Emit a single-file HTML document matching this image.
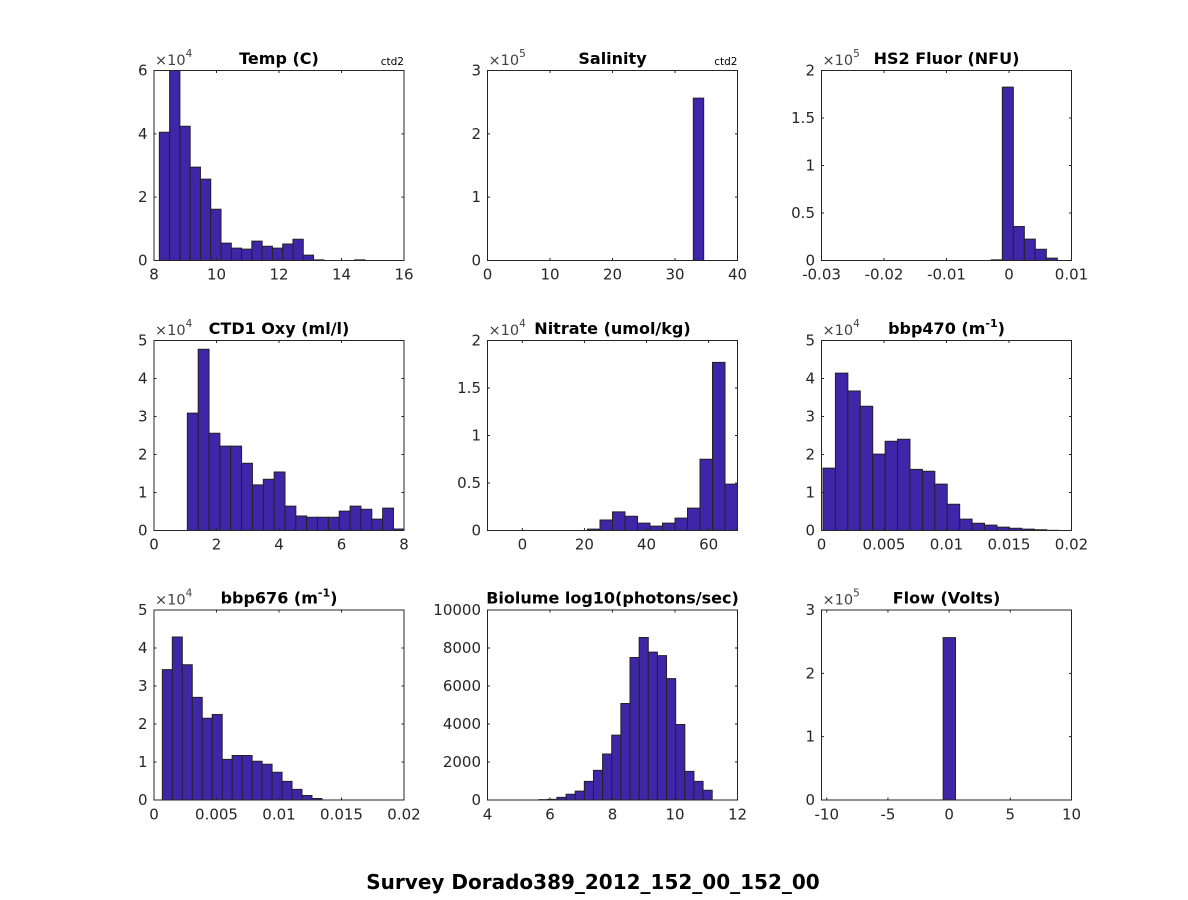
<!DOCTYPE html>
<html><head><meta charset="utf-8"><style>
html,body{margin:0;padding:0;background:#fff}
svg{display:block}
.b rect{vector-effect:non-scaling-stroke}
text{font-family:"DejaVu Sans","Liberation Sans",sans-serif}
.tk{font-size:15px;fill:#262626}
.tt{font-size:16px;font-weight:bold;fill:#000}
.ex{font-size:14.5px;fill:#404040}
.ctd{font-size:10.5px;fill:#000}
</style></head><body>
<svg width="1188" height="900" viewBox="0 0 1188 900" xmlns="http://www.w3.org/2000/svg">
<rect width="1188" height="900" fill="#fff"/>

<!-- Panel A: Temp -->
<rect x="154" y="70.5" width="250" height="190" fill="#fff"/>
<g class="b" transform="translate(-96,260.5) scale(31.25,-31.667)" fill="#3e26a8" stroke="#222" stroke-width="1">
<rect x="8.1706" y="0" width="0.329" height="4.05"/>
<rect x="8.4996" y="0" width="0.329" height="6.0"/>
<rect x="8.8286" y="0" width="0.329" height="4.24"/>
<rect x="9.1576" y="0" width="0.329" height="2.95"/>
<rect x="9.4866" y="0" width="0.329" height="2.57"/>
<rect x="9.8156" y="0" width="0.329" height="1.62"/>
<rect x="10.1446" y="0" width="0.329" height="0.55"/>
<rect x="10.4736" y="0" width="0.329" height="0.39"/>
<rect x="10.8026" y="0" width="0.329" height="0.36"/>
<rect x="11.1316" y="0" width="0.329" height="0.61"/>
<rect x="11.4606" y="0" width="0.329" height="0.45"/>
<rect x="11.7896" y="0" width="0.329" height="0.39"/>
<rect x="12.1186" y="0" width="0.329" height="0.52"/>
<rect x="12.4476" y="0" width="0.329" height="0.67"/>
<rect x="12.7766" y="0" width="0.329" height="0.17"/>
<rect x="13.1056" y="0" width="0.329" height="0.02"/>
<rect x="14.4216" y="0" width="0.329" height="0.02"/>
</g>
<rect x="154" y="70.5" width="250" height="190" fill="none" stroke="#262626" stroke-width="1"/>
<path d="M216.5 260.5v-2.5M279 260.5v-2.5M341.5 260.5v-2.5M216.5 70.5v2.5M279 70.5v2.5M341.5 70.5v2.5M154 197.17h2.5M154 133.83h2.5M404 197.17h-2.5M404 133.83h-2.5" stroke="#262626" stroke-width="1" fill="none"/>
<g class="tk" text-anchor="middle"><text x="154" y="279.5">8</text><text x="216.5" y="279.5">10</text><text x="279" y="279.5">12</text><text x="341.5" y="279.5">14</text><text x="404" y="279.5">16</text></g>
<g class="tk" text-anchor="end"><text x="147.5" y="265.5">0</text><text x="147.5" y="202.2">2</text><text x="147.5" y="138.8">4</text><text x="147.5" y="75.5">6</text></g>
<text class="tt" x="279" y="64.2" text-anchor="middle">Temp (C)</text>
<text class="ex" x="155" y="65">×10<tspan dy="-8" font-size="10.5">4</tspan></text>
<text class="ctd" x="404" y="65" text-anchor="end">ctd2</text>

<!-- Panel B: Salinity -->
<g class="b" transform="translate(487.5,260.5) scale(6.25,-63.333)" fill="#3e26a8" stroke="#222" stroke-width="1">
<rect x="32.93" y="0" width="1.66" height="2.563"/>
</g>
<rect x="487.5" y="70.5" width="250" height="190" fill="none" stroke="#262626" stroke-width="1"/>
<path d="M550 260.5v-2.5M612.5 260.5v-2.5M675 260.5v-2.5M550 70.5v2.5M612.5 70.5v2.5M675 70.5v2.5M487.5 197.17h2.5M487.5 133.83h2.5M737.5 197.17h-2.5M737.5 133.83h-2.5" stroke="#262626" stroke-width="1" fill="none"/>
<g class="tk" text-anchor="middle"><text x="487.5" y="279.5">0</text><text x="550" y="279.5">10</text><text x="612.5" y="279.5">20</text><text x="675" y="279.5">30</text><text x="737.5" y="279.5">40</text></g>
<g class="tk" text-anchor="end"><text x="481" y="265.5">0</text><text x="481" y="202.2">1</text><text x="481" y="138.8">2</text><text x="481" y="75.5">3</text></g>
<text class="tt" x="612.5" y="64.2" text-anchor="middle">Salinity</text>
<text class="ex" x="488.5" y="65">×10<tspan dy="-8" font-size="10.5">5</tspan></text>
<text class="ctd" x="737.5" y="65" text-anchor="end">ctd2</text>

<!-- Panel C: HS2 Fluor -->
<g class="b" transform="translate(1009,260.5) scale(6250,-95)" fill="#3e26a8" stroke="#222" stroke-width="1">
<rect x="-0.002827" y="0" width="0.00176" height="0.007"/>
<rect x="-0.001067" y="0" width="0.00176" height="1.825"/>
<rect x="0.000693" y="0" width="0.00176" height="0.358"/>
<rect x="0.002453" y="0" width="0.00176" height="0.225"/>
<rect x="0.004213" y="0" width="0.00176" height="0.119"/>
<rect x="0.005973" y="0" width="0.00176" height="0.025"/>
</g>
<rect x="821.5" y="70.5" width="250" height="190" fill="none" stroke="#262626" stroke-width="1"/>
<path d="M884 260.5v-2.5M946.5 260.5v-2.5M1009 260.5v-2.5M884 70.5v2.5M946.5 70.5v2.5M1009 70.5v2.5M821.5 213h2.5M821.5 165.5h2.5M821.5 118h2.5M1071.5 213h-2.5M1071.5 165.5h-2.5M1071.5 118h-2.5" stroke="#262626" stroke-width="1" fill="none"/>
<g class="tk" text-anchor="middle"><text x="821.5" y="279.5">-0.03</text><text x="884" y="279.5">-0.02</text><text x="946.5" y="279.5">-0.01</text><text x="1009" y="279.5">0</text><text x="1071.5" y="279.5">0.01</text></g>
<g class="tk" text-anchor="end"><text x="815" y="265.5">0</text><text x="815" y="218">0.5</text><text x="815" y="170.5">1</text><text x="815" y="123">1.5</text><text x="815" y="75.5">2</text></g>
<text class="tt" x="946.5" y="64.2" text-anchor="middle">HS2 Fluor (NFU)</text>
<text class="ex" x="822.5" y="65">×10<tspan dy="-8" font-size="10.5">5</tspan></text>

<!-- Panel D: CTD1 Oxy -->
<g class="b" transform="translate(154,530.5) scale(31.25,-38)" fill="#3e26a8" stroke="#222" stroke-width="1">
<rect x="1.067" y="0" width="0.3472" height="3.09"/>
<rect x="1.4142" y="0" width="0.3472" height="4.77"/>
<rect x="1.7614" y="0" width="0.3472" height="2.56"/>
<rect x="2.1086" y="0" width="0.3472" height="2.22"/>
<rect x="2.4558" y="0" width="0.3472" height="2.22"/>
<rect x="2.803" y="0" width="0.3472" height="1.77"/>
<rect x="3.1502" y="0" width="0.3472" height="1.20"/>
<rect x="3.4974" y="0" width="0.3472" height="1.35"/>
<rect x="3.8446" y="0" width="0.3472" height="1.54"/>
<rect x="4.1918" y="0" width="0.3472" height="0.64"/>
<rect x="4.539" y="0" width="0.3472" height="0.38"/>
<rect x="4.8862" y="0" width="0.3472" height="0.35"/>
<rect x="5.2334" y="0" width="0.3472" height="0.35"/>
<rect x="5.5806" y="0" width="0.3472" height="0.35"/>
<rect x="5.9278" y="0" width="0.3472" height="0.51"/>
<rect x="6.275" y="0" width="0.3472" height="0.64"/>
<rect x="6.6222" y="0" width="0.3472" height="0.56"/>
<rect x="6.9694" y="0" width="0.3472" height="0.30"/>
<rect x="7.3166" y="0" width="0.3472" height="0.59"/>
<rect x="7.6638" y="0" width="0.3362" height="0.04"/>
</g>
<rect x="154" y="340.5" width="250" height="190" fill="none" stroke="#262626" stroke-width="1"/>
<path d="M216.5 530.5v-2.5M279 530.5v-2.5M341.5 530.5v-2.5M216.5 340.5v2.5M279 340.5v2.5M341.5 340.5v2.5M154 492.5h2.5M154 454.5h2.5M154 416.5h2.5M154 378.5h2.5M404 492.5h-2.5M404 454.5h-2.5M404 416.5h-2.5M404 378.5h-2.5" stroke="#262626" stroke-width="1" fill="none"/>
<g class="tk" text-anchor="middle"><text x="154" y="549.5">0</text><text x="216.5" y="549.5">2</text><text x="279" y="549.5">4</text><text x="341.5" y="549.5">6</text><text x="404" y="549.5">8</text></g>
<g class="tk" text-anchor="end"><text x="147.5" y="535.5">0</text><text x="147.5" y="497.5">1</text><text x="147.5" y="459.5">2</text><text x="147.5" y="421.5">3</text><text x="147.5" y="383.5">4</text><text x="147.5" y="345.5">5</text></g>
<text class="tt" x="279" y="334.2" text-anchor="middle">CTD1 Oxy (ml/l)</text>
<text class="ex" x="155" y="335">×10<tspan dy="-8" font-size="10.5">4</tspan></text>

<!-- Panel E: Nitrate -->
<g class="b" transform="translate(522.36,530.5) scale(3.1045,-95)" fill="#3e26a8" stroke="#222" stroke-width="1">
<rect x="20.98" y="0" width="4.0265" height="0.014"/>
<rect x="25.0065" y="0" width="4.0265" height="0.11"/>
<rect x="29.033" y="0" width="4.0265" height="0.196"/>
<rect x="33.0595" y="0" width="4.0265" height="0.15"/>
<rect x="37.086" y="0" width="4.0265" height="0.077"/>
<rect x="41.1125" y="0" width="4.0265" height="0.046"/>
<rect x="45.139" y="0" width="4.0265" height="0.077"/>
<rect x="49.1655" y="0" width="4.0265" height="0.13"/>
<rect x="53.192" y="0" width="4.0265" height="0.235"/>
<rect x="57.2185" y="0" width="4.0265" height="0.75"/>
<rect x="61.245" y="0" width="4.0265" height="1.77"/>
<rect x="65.2715" y="0" width="4.0265" height="0.488"/>
</g>
<rect x="487.5" y="340.5" width="250" height="190" fill="none" stroke="#262626" stroke-width="1"/>
<path d="M522.36 530.5v-2.5M584.45 530.5v-2.5M646.54 530.5v-2.5M708.63 530.5v-2.5M522.36 340.5v2.5M584.45 340.5v2.5M646.54 340.5v2.5M708.63 340.5v2.5M487.5 483h2.5M487.5 435.5h2.5M487.5 388h2.5M737.5 483h-2.5M737.5 435.5h-2.5M737.5 388h-2.5" stroke="#262626" stroke-width="1" fill="none"/>
<g class="tk" text-anchor="middle"><text x="522.36" y="549.5">0</text><text x="584.45" y="549.5">20</text><text x="646.54" y="549.5">40</text><text x="708.63" y="549.5">60</text></g>
<g class="tk" text-anchor="end"><text x="481" y="535.5">0</text><text x="481" y="488">0.5</text><text x="481" y="440.5">1</text><text x="481" y="393">1.5</text><text x="481" y="345.5">2</text></g>
<text class="tt" x="612.5" y="334.2" text-anchor="middle">Nitrate (umol/kg)</text>
<text class="ex" x="488.5" y="335">×10<tspan dy="-8" font-size="10.5">4</tspan></text>

<!-- Panel F: bbp470 -->
<g class="b" transform="translate(821.5,530.5) scale(12500,-38)" fill="#3e26a8" stroke="#222" stroke-width="1">
<rect x="0.00012" y="0" width="0.000994" height="1.64"/>
<rect x="0.001114" y="0" width="0.000994" height="4.14"/>
<rect x="0.002108" y="0" width="0.000994" height="3.67"/>
<rect x="0.003102" y="0" width="0.000994" height="3.27"/>
<rect x="0.004096" y="0" width="0.000994" height="2.01"/>
<rect x="0.00509" y="0" width="0.000994" height="2.35"/>
<rect x="0.006084" y="0" width="0.000994" height="2.40"/>
<rect x="0.007078" y="0" width="0.000994" height="1.61"/>
<rect x="0.008072" y="0" width="0.000994" height="1.56"/>
<rect x="0.009066" y="0" width="0.000994" height="1.22"/>
<rect x="0.01006" y="0" width="0.000994" height="0.69"/>
<rect x="0.011054" y="0" width="0.000994" height="0.30"/>
<rect x="0.012048" y="0" width="0.000994" height="0.19"/>
<rect x="0.013042" y="0" width="0.000994" height="0.14"/>
<rect x="0.014036" y="0" width="0.000994" height="0.09"/>
<rect x="0.01503" y="0" width="0.000994" height="0.06"/>
<rect x="0.016024" y="0" width="0.000994" height="0.035"/>
<rect x="0.017018" y="0" width="0.000994" height="0.02"/>
<rect x="0.018012" y="0" width="0.000994" height="0.005"/>
</g>
<rect x="821.5" y="340.5" width="250" height="190" fill="none" stroke="#262626" stroke-width="1"/>
<path d="M884 530.5v-2.5M946.5 530.5v-2.5M1009 530.5v-2.5M884 340.5v2.5M946.5 340.5v2.5M1009 340.5v2.5M821.5 492.5h2.5M821.5 454.5h2.5M821.5 416.5h2.5M821.5 378.5h2.5M1071.5 492.5h-2.5M1071.5 454.5h-2.5M1071.5 416.5h-2.5M1071.5 378.5h-2.5" stroke="#262626" stroke-width="1" fill="none"/>
<g class="tk" text-anchor="middle"><text x="821.5" y="549.5">0</text><text x="884" y="549.5">0.005</text><text x="946.5" y="549.5">0.01</text><text x="1009" y="549.5">0.015</text><text x="1071.5" y="549.5">0.02</text></g>
<g class="tk" text-anchor="end"><text x="815" y="535.5">0</text><text x="815" y="497.5">1</text><text x="815" y="459.5">2</text><text x="815" y="421.5">3</text><text x="815" y="383.5">4</text><text x="815" y="345.5">5</text></g>
<text class="tt" x="946.5" y="334.2" text-anchor="middle">bbp470 (m<tspan dy="-7" font-size="11">-1</tspan><tspan dy="7">)</tspan></text>
<text class="ex" x="822.5" y="335">×10<tspan dy="-8" font-size="10.5">4</tspan></text>

<!-- Panel G: bbp676 -->
<g class="b" transform="translate(154,800) scale(12500,-38)" fill="#3e26a8" stroke="#222" stroke-width="1">
<rect x="0.000667" y="0" width="0.000798" height="3.43"/>
<rect x="0.001465" y="0" width="0.000798" height="4.29"/>
<rect x="0.002263" y="0" width="0.000798" height="3.56"/>
<rect x="0.003061" y="0" width="0.000798" height="2.70"/>
<rect x="0.003859" y="0" width="0.000798" height="2.15"/>
<rect x="0.004657" y="0" width="0.000798" height="2.25"/>
<rect x="0.005455" y="0" width="0.000798" height="1.07"/>
<rect x="0.006253" y="0" width="0.000798" height="1.17"/>
<rect x="0.007051" y="0" width="0.000798" height="1.17"/>
<rect x="0.007849" y="0" width="0.000798" height="1.02"/>
<rect x="0.008647" y="0" width="0.000798" height="0.94"/>
<rect x="0.009445" y="0" width="0.000798" height="0.73"/>
<rect x="0.010243" y="0" width="0.000798" height="0.49"/>
<rect x="0.011041" y="0" width="0.000798" height="0.28"/>
<rect x="0.011839" y="0" width="0.000798" height="0.12"/>
<rect x="0.012637" y="0" width="0.000798" height="0.04"/>
</g>
<rect x="154" y="610" width="250" height="190" fill="none" stroke="#262626" stroke-width="1"/>
<path d="M216.5 800v-2.5M279 800v-2.5M341.5 800v-2.5M216.5 610v2.5M279 610v2.5M341.5 610v2.5M154 762h2.5M154 724h2.5M154 686h2.5M154 648h2.5M404 762h-2.5M404 724h-2.5M404 686h-2.5M404 648h-2.5" stroke="#262626" stroke-width="1" fill="none"/>
<g class="tk" text-anchor="middle"><text x="154" y="819.5">0</text><text x="216.5" y="819.5">0.005</text><text x="279" y="819.5">0.01</text><text x="341.5" y="819.5">0.015</text><text x="404" y="819.5">0.02</text></g>
<g class="tk" text-anchor="end"><text x="147.5" y="805">0</text><text x="147.5" y="767">1</text><text x="147.5" y="729">2</text><text x="147.5" y="691">3</text><text x="147.5" y="653">4</text><text x="147.5" y="615">5</text></g>
<text class="tt" x="279" y="603.7" text-anchor="middle">bbp676 (m<tspan dy="-7" font-size="11">-1</tspan><tspan dy="7">)</tspan></text>
<text class="ex" x="155" y="604.5">×10<tspan dy="-8" font-size="10.5">4</tspan></text>

<!-- Panel H: Biolume -->
<g class="b" transform="translate(362.5,800) scale(31.25,-0.019)" fill="#3e26a8" stroke="#222" stroke-width="1">
<rect x="5.637" y="0" width="0.2923" height="20"/>
<rect x="5.9293" y="0" width="0.2923" height="35"/>
<rect x="6.2216" y="0" width="0.2923" height="140"/>
<rect x="6.5139" y="0" width="0.2923" height="300"/>
<rect x="6.8062" y="0" width="0.2923" height="470"/>
<rect x="7.0985" y="0" width="0.2923" height="980"/>
<rect x="7.3908" y="0" width="0.2923" height="1560"/>
<rect x="7.6831" y="0" width="0.2923" height="2420"/>
<rect x="7.9754" y="0" width="0.2923" height="3415"/>
<rect x="8.2677" y="0" width="0.2923" height="5080"/>
<rect x="8.56" y="0" width="0.2923" height="7500"/>
<rect x="8.8523" y="0" width="0.2923" height="8550"/>
<rect x="9.1446" y="0" width="0.2923" height="7780"/>
<rect x="9.4369" y="0" width="0.2923" height="7600"/>
<rect x="9.7292" y="0" width="0.2923" height="6390"/>
<rect x="10.0215" y="0" width="0.2923" height="3975"/>
<rect x="10.3138" y="0" width="0.2923" height="1505"/>
<rect x="10.6061" y="0" width="0.2923" height="980"/>
<rect x="10.8984" y="0" width="0.2923" height="510"/>
</g>
<rect x="487.5" y="610" width="250" height="190" fill="none" stroke="#262626" stroke-width="1"/>
<path d="M550 800v-2.5M612.5 800v-2.5M675 800v-2.5M550 610v2.5M612.5 610v2.5M675 610v2.5M487.5 762h2.5M487.5 724h2.5M487.5 686h2.5M487.5 648h2.5M737.5 762h-2.5M737.5 724h-2.5M737.5 686h-2.5M737.5 648h-2.5" stroke="#262626" stroke-width="1" fill="none"/>
<g class="tk" text-anchor="middle"><text x="487.5" y="819.5">4</text><text x="550" y="819.5">6</text><text x="612.5" y="819.5">8</text><text x="675" y="819.5">10</text><text x="737.5" y="819.5">12</text></g>
<g class="tk" text-anchor="end"><text x="481" y="805">0</text><text x="481" y="767">2000</text><text x="481" y="729">4000</text><text x="481" y="691">6000</text><text x="481" y="653">8000</text><text x="481" y="615">10000</text></g>
<text class="tt" x="612.5" y="603.7" text-anchor="middle">Biolume log10(photons/sec)</text>

<!-- Panel I: Flow -->
<g class="b" transform="translate(949.13,800) scale(12.237,-63.333)" fill="#3e26a8" stroke="#222" stroke-width="1">
<rect x="-0.49" y="0" width="1.01" height="2.564"/>
</g>
<rect x="821.5" y="610" width="250" height="190" fill="none" stroke="#262626" stroke-width="1"/>
<path d="M826.76 800v-2.5M887.95 800v-2.5M949.13 800v-2.5M1010.3 800v-2.5M826.76 610v2.5M887.95 610v2.5M949.13 610v2.5M1010.3 610v2.5M821.5 736.67h2.5M821.5 673.33h2.5M1071.5 736.67h-2.5M1071.5 673.33h-2.5" stroke="#262626" stroke-width="1" fill="none"/>
<g class="tk" text-anchor="middle"><text x="826.76" y="819.5">-10</text><text x="887.95" y="819.5">-5</text><text x="949.13" y="819.5">0</text><text x="1010.3" y="819.5">5</text><text x="1071.5" y="819.5">10</text></g>
<g class="tk" text-anchor="end"><text x="815" y="805">0</text><text x="815" y="741.7">1</text><text x="815" y="678.3">2</text><text x="815" y="615">3</text></g>
<text class="tt" x="946.5" y="603.7" text-anchor="middle">Flow (Volts)</text>
<text class="ex" x="822.5" y="604.5">×10<tspan dy="-8" font-size="10.5">5</tspan></text>

<!-- Super title -->
<text x="593" y="889" text-anchor="middle" style="font-size:20px;font-weight:bold;fill:#000">Survey Dorado389_2012_152_00_152_00</text>
</svg>
</body></html>
